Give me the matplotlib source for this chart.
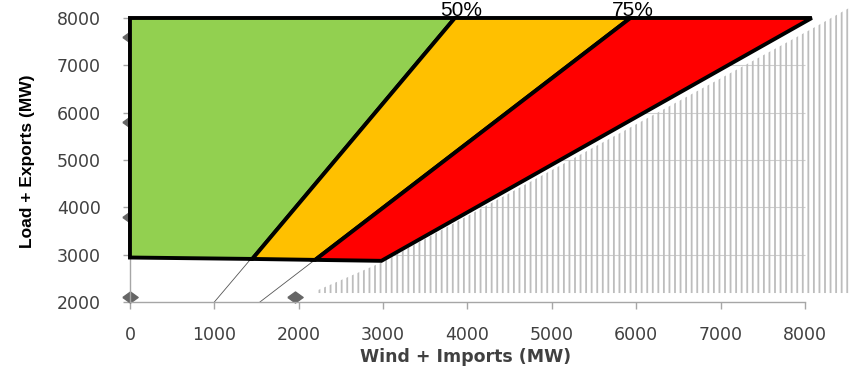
import numpy as np
import matplotlib
matplotlib.use("Agg")
from matplotlib import pyplot as plt

# zone polygons (Wind + Imports, Load + Exports)
green_x = [0, 3850, 1450, 0]
green_y = [8000, 8000, 2910, 2940]
orange_x = [3850, 5930, 2195, 1450]
orange_y = [8000, 8000, 2890, 2910]
red_x = [5930, 8080, 2980, 2195]
red_y = [8000, 8000, 2870, 2890]

# thin extension lines of the 50% / 75% boundaries
line50_x = [1000, 3850]
line50_y = [2000, 8000]
line75_x = [1540, 5930]
line75_y = [2000, 8000]

# hatched (infeasible) region
hatch_x = [2200, 3000, 8100, 8550]
hatch_bottom = [2190, 2190, 2190, 2190]
hatch_top = [2230, 2850, 7790, 8240]

# diamond points
pts_x = [0, 0, 0, 0, 1950]
pts_y = [7600, 5800, 3800, 2100, 2100]

labels = ["50%", "75%"]
label_x = [3920, 5960]

x_ticks = [0, 1000, 2000, 3000, 4000, 5000, 6000, 7000, 8000]
y_ticks = [2000, 3000, 4000, 5000, 6000, 7000, 8000]

plt.rcParams["hatch.color"] = "#bdbdbd"
plt.rcParams["hatch.linewidth"] = 1.3

fig = plt.figure(figsize=(8.5, 3.87), dpi=100)
ax = fig.add_axes([0.1529, 0.2196, 0.8471, 0.7804])
ax.set_xlim(0, 8533)
ax.set_ylim(2000, 8380)

ax.hlines(y_ticks[1:], 0, 8000, color="#cfcfcf", linewidth=0.8, zorder=0)

ax.fill_between(hatch_x, hatch_bottom, hatch_top, facecolor="none",
                edgecolor="#bdbdbd", hatch="|||", linewidth=0, zorder=1)

ax.plot(line50_x, line50_y, color="#555555", linewidth=0.6, zorder=1)
ax.plot(line75_x, line75_y, color="#555555", linewidth=0.6, zorder=1)

diamond = [(-1, 0), (0, 0.72), (1, 0), (0, -0.72), (-1, 0)]
ax.plot(pts_x, pts_y, linestyle="none", marker=diamond, markersize=11,
        color="#666666", zorder=2, clip_on=False)

for xs, ys, c in [(green_x, green_y, "#92d050"),
                  (orange_x, orange_y, "#ffc000"),
                  (red_x, red_y, "#ff0000")]:
    ax.fill(xs, ys, facecolor=c, edgecolor="black", linewidth=2.8,
            joinstyle="miter", zorder=3, clip_on=False)

for lab, lx in zip(labels, label_x):
    ax.text(lx, 8050, lab, ha="center", va="baseline", fontsize=15,
            family="Liberation Sans", color="black", zorder=4)

for s in ["top", "right"]:
    ax.spines[s].set_visible(False)
for s in ["left", "bottom"]:
    ax.spines[s].set_color("#a6a6a6")
    ax.spines[s].set_linewidth(1.0)
ax.spines["bottom"].set_bounds(0, 8000)
ax.spines["left"].set_bounds(2000, 8000)

ax.set_xticks(x_ticks)
ax.set_yticks(y_ticks)
ax.tick_params(axis="both", colors="#a6a6a6", labelcolor="#404040",
               labelsize=12.5, length=5, width=1.0, direction="out")
ax.tick_params(axis="x", pad=12)
ax.tick_params(axis="y", pad=16)

ax.set_xlabel("Wind + Imports (MW)", fontsize=12.5, fontweight="bold",
              color="#404040")
ax.xaxis.set_label_coords((466 - 130) / 720, -(348 - 302) / 302)
ax.set_ylabel("Load + Exports (MW)", fontsize=12.5, fontweight="bold",
              family=["Liberation Sans Narrow", "DejaVu Sans Condensed", "Liberation Sans"],
              color="black")
ax.yaxis.set_label_coords(-(130 - 35) / 720, (302 - 161) / 302)

plt.savefig("out.png", dpi=100)
